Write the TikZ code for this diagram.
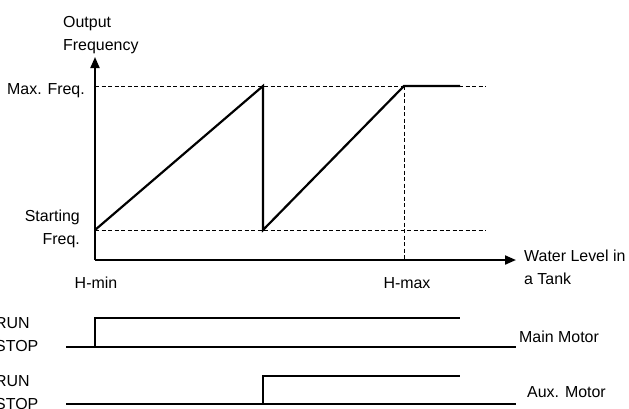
\documentclass[tikz,border=0pt]{standalone}
\usepackage{fontspec}
\setmainfont{Liberation Sans}
\usetikzlibrary{arrows.meta,positioning}

\begin{document}
\begin{tikzpicture}[
  x=1bp, y=-1bp,
  font=\fontsize{16}{23}\selectfont,
  >={Triangle[length=11bp,width=9bp]},
  axis/.style={->, line width=2bp, draw=black},
  guide/.style={line width=1bp, dash pattern=on 4bp off 2.5bp},
  curve/.style={line width=2.2bp, line join=miter},
  high/.style={line width=2.2bp},
  low/.style={line width=1.3bp},
  lbl/.style={inner sep=0pt, align=left},
  rlbl/.style={inner sep=0pt, align=right}
]
\useasboundingbox (0,0) rectangle (629,408);

% Axes
\coordinate (O) at (95,260);
\coordinate (ytop) at (95,57);
\coordinate (xend) at (516,260);
\coordinate (fmax) at (95,86);
\coordinate (fstart) at (95,230);
\coordinate (fmaxend) at (486,86);
\coordinate (fstartend) at (486,230);
\coordinate (peak) at (263,86);
\coordinate (dip) at (263,230);
\coordinate (hmax) at (404,86);
\coordinate (hmaxbase) at (404,260);
\coordinate (flatend) at (460,86);

\draw[guide] (fmax) -- (fmaxend);
\draw[guide] (fstart) -- (fstartend);
\draw[guide] (hmax) -- (hmaxbase);
\draw[axis] (O) -- (ytop);
\draw[axis] (O) -- (xend);

% Output frequency
\draw[curve] (fstart) -- (peak) -- (dip) -- (hmax) -- (flatend);

% Labels
\node[lbl, anchor=south west] (yname) at (63,54) {Output\\Frequency};
\node[rlbl, anchor=east] (maxf) at (85,91) {Max. Freq.};
\node[rlbl, anchor=north east] (startf) at (80,210) {Starting\\Freq.};
\node[lbl] (hmin) at (96,283) {H-min};
\node[lbl] (hmaxl) at (407,283) {H-max};
\node[lbl, anchor=west] (xname) at (524,267) {Water Level in\\a Tank};

% Main motor
\coordinate (m0) at (66,347);
\coordinate (mstep) at (95,347);
\coordinate (mrun) at (95,318);
\coordinate (mrunend) at (460,318);
\coordinate (mend) at (516,347);
\draw[high] (m0) -- (mstep) -- (mrun) -- (mrunend);
\draw[low] (mstep) -- (mend);
\node[lbl, anchor=west] (mstate) at (-5,335) {RUN\\STOP};
\node[lbl, anchor=west] (mname) at (519,337) {Main Motor};

% Aux motor
\coordinate (a0) at (66,404);
\coordinate (astep) at (263,404);
\coordinate (arun) at (263,376);
\coordinate (arunend) at (460,376);
\coordinate (aend) at (516,404);
\draw[high] (a0) -- (astep) -- (arun) -- (arunend);
\draw[low] (astep) -- (aend);
\node[lbl, anchor=west] (astate) at (-5,393) {RUN\\STOP};
\node[lbl, anchor=west] (aname) at (527,392) {Aux. Motor};

\end{tikzpicture}
\end{document}
